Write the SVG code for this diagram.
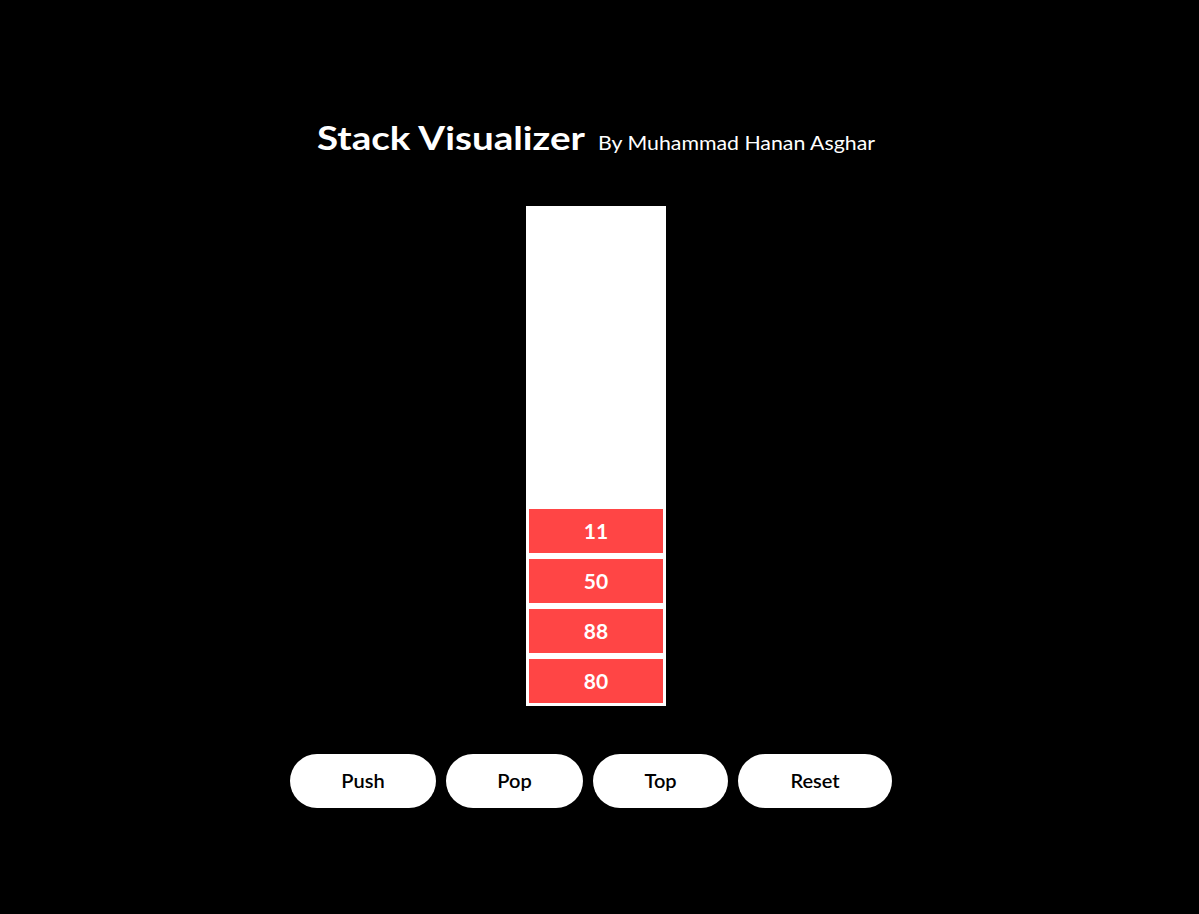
<svg xmlns="http://www.w3.org/2000/svg" width="1199" height="914" viewBox="0 0 1199 914">
<style>
.title{font-family:Lato,"Open Sans","Liberation Sans",sans-serif;font-weight:700;font-size:33px;fill:#fff}
.sub{font-family:Lato,"Open Sans","Liberation Sans",sans-serif;font-size:20px;fill:#fff}
.item rect{fill:#ff4545}
.item text{font-family:Lato,"Open Sans","Liberation Sans",sans-serif;font-weight:700;font-size:21px;fill:#fff;text-anchor:middle}
.btn rect{fill:#fff}
.btn text{font-family:Lato,"Open Sans","Liberation Sans",sans-serif;font-weight:600;font-size:20px;fill:#000;text-anchor:middle}
</style>
<rect width="1199" height="914" fill="#000"/>
<g id="header">
<text class="title" x="317" y="150" textLength="268" lengthAdjust="spacingAndGlyphs">Stack Visualizer</text>
<text class="sub" x="598" y="150" textLength="277" lengthAdjust="spacingAndGlyphs">By Muhammad Hanan Asghar</text>
</g>
<g id="stack">
<rect x="526" y="206" width="140" height="500" fill="#fff"/>
</g>
<g id="item-11" class="item"><rect x="529" y="509" width="134" height="44"/><text x="596" y="539">11</text></g>
<g id="item-50" class="item"><rect x="529" y="559" width="134" height="44"/><text x="596" y="589">50</text></g>
<g id="item-88" class="item"><rect x="529" y="609" width="134" height="44"/><text x="596" y="639">88</text></g>
<g id="item-80" class="item"><rect x="529" y="659" width="134" height="44"/><text x="596" y="689">80</text></g>
<g id="btn-push" class="btn"><rect x="290" y="754" width="146" height="54" rx="27"/><text x="363" y="788">Push</text></g>
<g id="btn-pop" class="btn"><rect x="446" y="754" width="137" height="54" rx="27"/><text x="514.5" y="788">Pop</text></g>
<g id="btn-top" class="btn"><rect x="593" y="754" width="135" height="54" rx="27"/><text x="660.5" y="788">Top</text></g>
<g id="btn-reset" class="btn"><rect x="738" y="754" width="154" height="54" rx="27"/><text x="815" y="788">Reset</text></g>
<g id="connectors"/>
</svg>
